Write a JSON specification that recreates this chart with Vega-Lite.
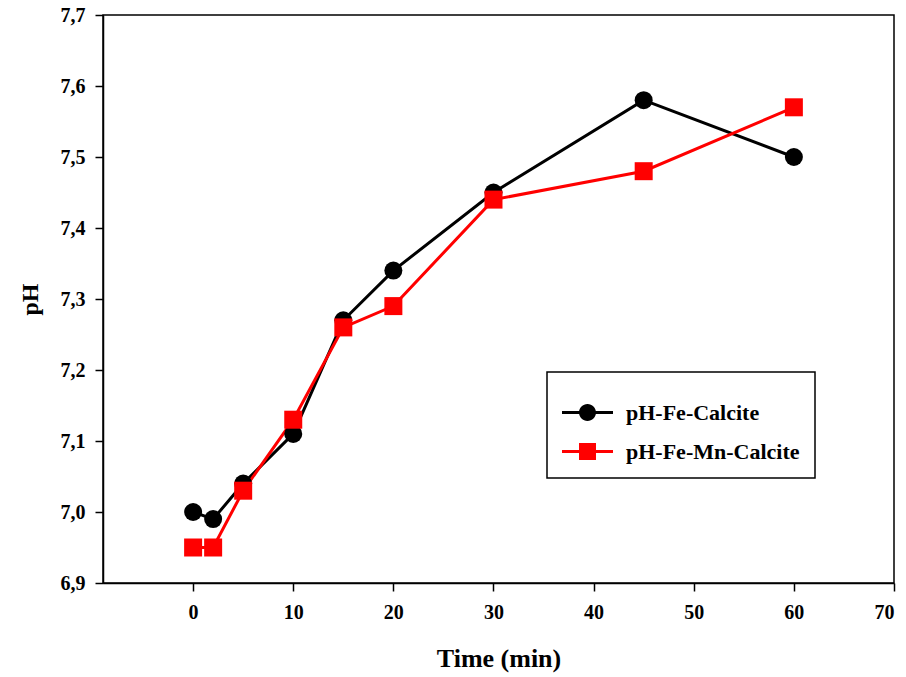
{
  "$schema": "https://vega.github.io/schema/vega-lite/v6.json",
  "width": 791,
  "height": 568,
  "autosize": {"type": "none"},
  "padding": {"left": 103, "top": 15, "right": 12, "bottom": 94},
  "background": "white",
  "config": {
    "view": {"stroke": "black", "strokeWidth": 1.5},
    "axis": {
      "domainColor": "black", "domainWidth": 1.5,
      "tickColor": "black", "tickWidth": 1.5, "tickSize": 8,
      "grid": false
    }
  },
  "data": {
    "values": [
      {"time": 0, "pH": 7.00, "series": "pH-Fe-Calcite"},
      {"time": 2, "pH": 6.99, "series": "pH-Fe-Calcite"},
      {"time": 5, "pH": 7.04, "series": "pH-Fe-Calcite"},
      {"time": 10, "pH": 7.11, "series": "pH-Fe-Calcite"},
      {"time": 15, "pH": 7.27, "series": "pH-Fe-Calcite"},
      {"time": 20, "pH": 7.34, "series": "pH-Fe-Calcite"},
      {"time": 30, "pH": 7.45, "series": "pH-Fe-Calcite"},
      {"time": 45, "pH": 7.58, "series": "pH-Fe-Calcite"},
      {"time": 60, "pH": 7.50, "series": "pH-Fe-Calcite"},
      {"time": 0, "pH": 6.95, "series": "pH-Fe-Mn-Calcite"},
      {"time": 2, "pH": 6.95, "series": "pH-Fe-Mn-Calcite"},
      {"time": 5, "pH": 7.03, "series": "pH-Fe-Mn-Calcite"},
      {"time": 10, "pH": 7.13, "series": "pH-Fe-Mn-Calcite"},
      {"time": 15, "pH": 7.26, "series": "pH-Fe-Mn-Calcite"},
      {"time": 20, "pH": 7.29, "series": "pH-Fe-Mn-Calcite"},
      {"time": 30, "pH": 7.44, "series": "pH-Fe-Mn-Calcite"},
      {"time": 45, "pH": 7.48, "series": "pH-Fe-Mn-Calcite"},
      {"time": 60, "pH": 7.57, "series": "pH-Fe-Mn-Calcite"}
    ]
  },
  "encoding": {
    "x": {
      "field": "time", "type": "quantitative",
      "scale": {"domain": [-9, 70], "nice": false, "zero": false},
      "axis": {"title": "Time (min)", "values": [0, 10, 20, 30, 40, 50, 60, 70],
               "labelFont": "Liberation Serif", "labelFontWeight": "bold", "labelFontSize": 20, "labelColor": "black",
               "titleFont": "Liberation Serif", "titleFontWeight": "bold", "titleFontSize": 26, "titleColor": "black",
               "labelPadding": 11, "titlePadding": 23}
    },
    "y": {
      "field": "pH", "type": "quantitative",
      "scale": {"domain": [6.9, 7.7], "nice": false, "zero": false},
      "axis": {"title": "pH", "values": [6.9, 7.0, 7.1, 7.2, 7.3, 7.4, 7.5, 7.6, 7.7],
               "labelExpr": "replace(format(datum.value, '.1f'), '.', ',')",
               "labelFont": "Liberation Serif", "labelFontWeight": "bold", "labelFontSize": 20, "labelColor": "black",
               "titleFont": "Liberation Serif", "titleFontWeight": "bold", "titleFontSize": 24, "titleColor": "black",
               "labelPadding": 10, "titlePadding": 18}
    },
    "color": {
      "field": "series", "type": "nominal",
      "scale": {"domain": ["pH-Fe-Calcite", "pH-Fe-Mn-Calcite"], "range": ["black", "#ff0000"]},
      "legend": {
        "title": null,
        "orient": "none",
        "legendX": 444,
        "legendY": 357,
        "strokeColor": "black",
        "fillColor": "white",
        "padding": 15,
        "labelFont": "Liberation Serif",
        "labelFontWeight": "bold",
        "labelFontSize": 22,
        "labelColor": "black",
        "labelLimit": 400,
        "labelOffset": 13,
        "symbolSize": 2601,
        "symbolStrokeWidth": 0,
        "rowPadding": 2,
        "encode": {
          "legend": {"update": {"strokeWidth": {"value": 1.5}}},
          "symbols": {
            "update": {
              "shape": {"signal": "datum.value == 'pH-Fe-Calcite' ? 'M0.333,0 A0.333,0.333 0 1,1 -0.333,0 A0.333,0.333 0 1,1 0.333,0 Z M-1,-0.06 L1,-0.06 L1,0.06 L-1,0.06 Z' : 'M-0.333,-0.333 L0.333,-0.333 L0.333,0.333 L-0.333,0.333 Z M-1,-0.06 L1,-0.06 L1,0.06 L-1,0.06 Z'"},
              "fill": {"signal": "datum.value == 'pH-Fe-Calcite' ? 'black' : '#ff0000'"},
              "size": {"value": 2601},
              "strokeWidth": {"value": 0},
              "opacity": {"value": 1}
            }
          }
        }
      }
    }
  },
  "layer": [
    {
      "mark": {"type": "line", "strokeWidth": 3}
    },
    {
      "transform": [{"filter": "datum.series == 'pH-Fe-Calcite'"}],
      "mark": {"type": "point", "shape": "circle", "filled": true, "opacity": 1, "size": 324}
    },
    {
      "transform": [{"filter": "datum.series == 'pH-Fe-Mn-Calcite'"}],
      "mark": {"type": "point", "shape": "square", "filled": true, "opacity": 1, "size": 324}
    }
  ]
}
